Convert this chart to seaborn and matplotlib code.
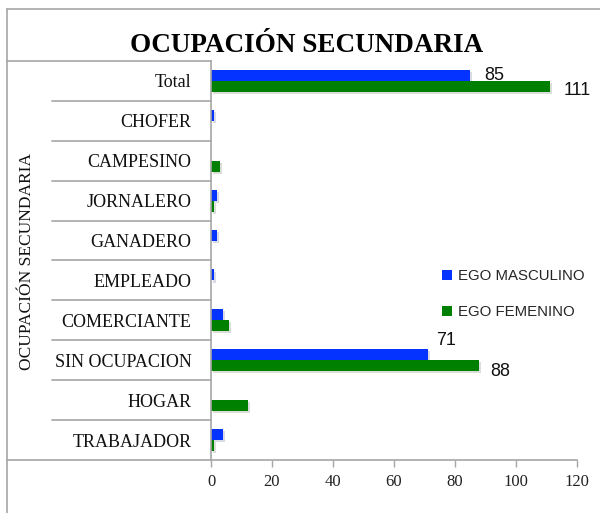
import matplotlib
matplotlib.use("Agg")
import matplotlib.pyplot as plt
import matplotlib.patheffects as pe
from matplotlib.lines import Line2D
import seaborn as sns
import pandas as pd

categories = ["Total", "CHOFER", "CAMPESINO", "JORNALERO", "GANADERO",
              "EMPLEADO", "COMERCIANTE", "SIN OCUPACION", "HOGAR", "TRABAJADOR"]
masculino = [85, 1, 0, 2, 2, 1, 4, 71, 0, 4]
femenino = [111, 0, 3, 1, 0, 0, 6, 88, 12, 1]
series_names = ["EGO MASCULINO", "EGO FEMENINO"]
colors = ["#0433FF", "#008000"]
x_ticks = [0, 20, 40, 60, 80, 100, 120]
labelled = {("EGO MASCULINO", "Total"), ("EGO FEMENINO", "Total"),
            ("EGO MASCULINO", "SIN OCUPACION"), ("EGO FEMENINO", "SIN OCUPACION")}

df = pd.DataFrame({
    "cat": categories * 2,
    "val": masculino + femenino,
    "serie": [series_names[0]] * len(categories) + [series_names[1]] * len(categories),
})

sns.set_theme(style="white")
serif = ["Liberation Serif", "DejaVu Serif"]
sans = ["Liberation Sans", "DejaVu Sans"]
gray = "#A6A6A6"

fig = plt.figure(figsize=(6.0, 5.13), dpi=100)
ax = fig.add_axes([211 / 600, 1 - 460 / 513, 366 / 600, 399 / 513])

sns.barplot(data=df, y="cat", x="val", hue="serie", order=categories,
            hue_order=series_names, palette=colors,
            orient="h", width=0.55, saturation=1, ax=ax, legend=False)

for cont in ax.containers:
    for bar in cont:
        bar.set_linewidth(0)
        bar.set_path_effects([pe.SimplePatchShadow(offset=(1.5, -1.5), alpha=0.15),
                              pe.Normal()])

ax.set_xlim(0, 120)
ax.set_xticks(x_ticks)
ax.set_xticklabels([str(t) for t in x_ticks], family=serif, fontsize=12, color="#222222")
ax.tick_params(axis="x", direction="out", length=5, width=1, color=gray, pad=5, bottom=True)
ax.tick_params(axis="y", length=0, pad=14)
for lab in ax.get_yticklabels():
    lab.set_family(serif)
    lab.set_fontsize(13)
    lab.set_color("#111111")
ax.set_xlabel("")
ax.set_ylabel("")
for s in ["top", "right"]:
    ax.spines[s].set_visible(False)
for s in ["left", "bottom"]:
    ax.spines[s].set_color(gray)
    ax.spines[s].set_linewidth(1.2)

# category separators (multi-level axis look)
tr = ax.get_yaxis_transform()
for i in range(len(categories) - 1):
    ax.add_line(Line2D([-0.434, 0], [i + 0.5, i + 0.5], transform=tr,
                       color=gray, lw=1.2, clip_on=False))
ax.add_line(Line2D([-0.557, 0], [-0.5, -0.5], transform=tr, color=gray, lw=1.2, clip_on=False))
ax.add_line(Line2D([-0.557, 0], [len(categories) - 0.5] * 2, transform=tr,
                   color=gray, lw=1.2, clip_on=False))

# figure frame
fig.add_artist(Line2D([7 / 600, 7 / 600], [0, 1 - 9 / 513], transform=fig.transFigure,
                      color=gray, lw=1.2))
fig.add_artist(Line2D([7 / 600, 1], [1 - 9 / 513] * 2, transform=fig.transFigure,
                      color=gray, lw=1.2))

# data labels
offsets = {("EGO MASCULINO", "Total"): (10, 0), ("EGO FEMENINO", "Total"): (10, -3),
           ("EGO MASCULINO", "SIN OCUPACION"): (6, 10), ("EGO FEMENINO", "SIN OCUPACION"): (8, -4)}
for name, cont in zip(series_names, ax.containers):
    for cat, bar in zip(categories, cont):
        if (name, cat) in labelled:
            ax.annotate(f"{bar.get_width():g}",
                        xy=(bar.get_width(), bar.get_y() + bar.get_height() / 2),
                        xytext=offsets[(name, cat)], textcoords="offset points",
                        ha="left", va="center", family=sans, fontsize=13, color="#111111",
                        annotation_clip=False)

# legend
handles = [Line2D([], [], ls="none", marker="s", markersize=7.5, color=c, markeredgewidth=0)
           for c in colors]
ax.legend(handles, series_names, loc="upper left", bbox_to_anchor=(430 / 600, 1 - 257 / 513),
          bbox_transform=fig.transFigure, frameon=False, handlelength=0.7,
          handletextpad=0.35, labelspacing=1.5, borderpad=0.3,
          prop={"family": sans, "size": 10.8})

fig.text(307 / 600, 1 - 45 / 513, "OCUPACIÓN SECUNDARIA", ha="center", va="center",
         family=serif, fontweight="bold", fontsize=19.5, color="#000000")
fig.text(27 / 600, 1 - 262 / 513, "OCUPACIÓN SECUNDARIA", ha="center", va="center",
         rotation=90, family=serif, fontsize=12.5, color="#111111")

fig.savefig("out.png", dpi=100)
